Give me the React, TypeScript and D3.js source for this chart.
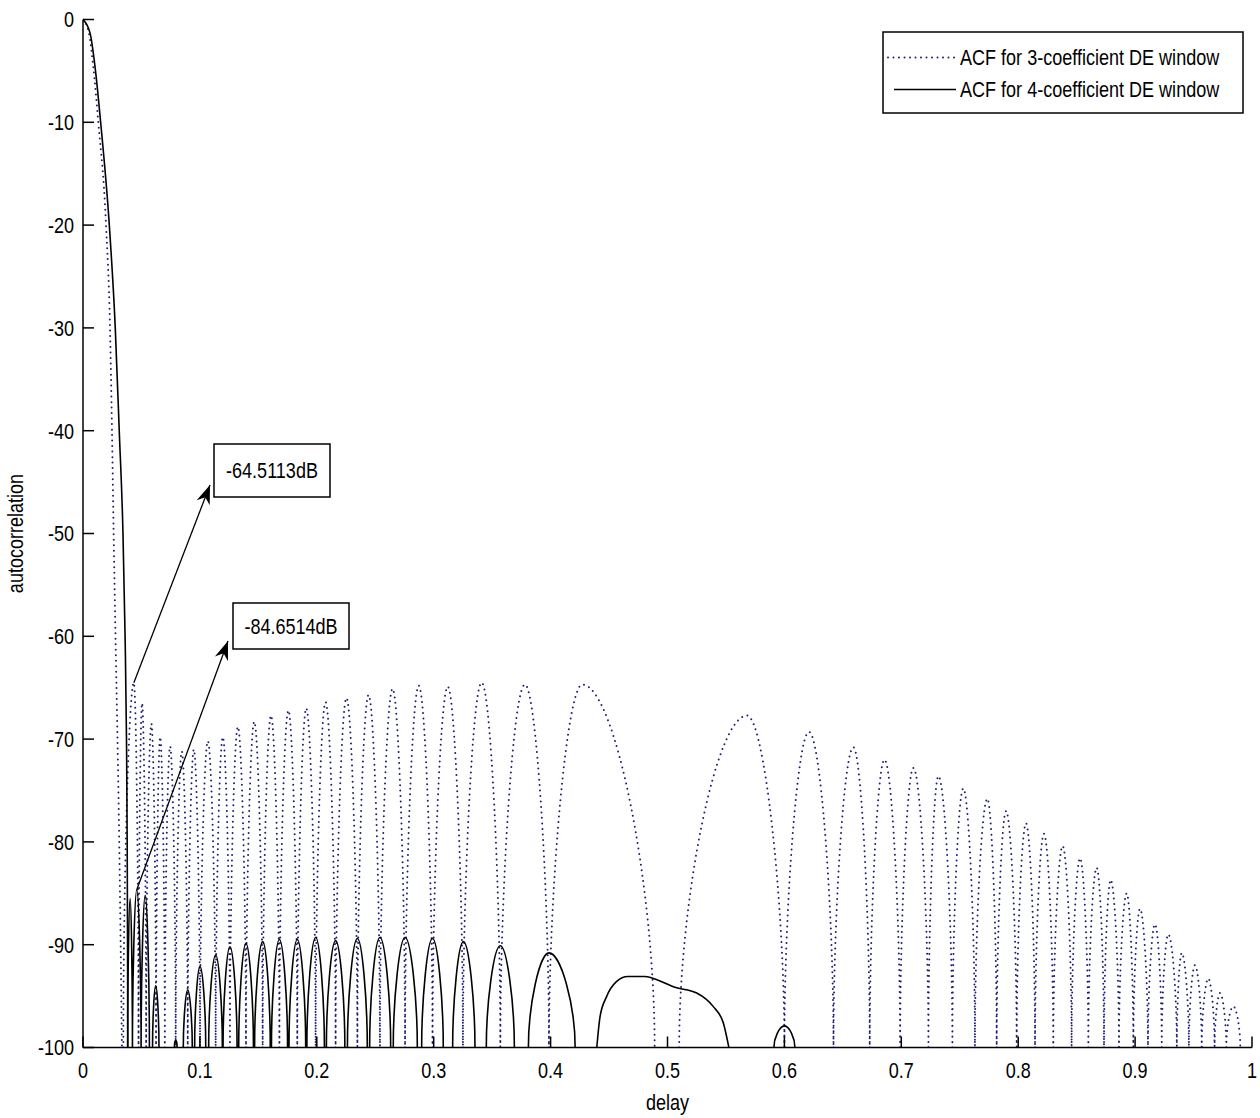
import React from "react";
import * as d3 from "d3";

const W = 1260;
const H = 1118;
const FONT = "'Liberation Sans', Arial, sans-serif";

const xTicks = [0, 0.1, 0.2, 0.3, 0.4, 0.5, 0.6, 0.7, 0.8, 0.9, 1];
const yTicks = [0, -10, -20, -30, -40, -50, -60, -70, -80, -90, -100];

const legendLabels = ["ACF for 3-coefficient DE window", "ACF for 4-coefficient DE window"];

// main lobes (delay, dB)
const acf3MainX = [0, 0.005, 0.0088, 0.0131, 0.0197, 0.0231, 0.0248, 0.0262, 0.0278, 0.0295, 0.031, 0.0322, 0.0333];
const acf3MainY = [0, -1.3, -4.6, -10, -20, -30, -40, -50, -60, -70, -80, -90, -100];
const acf4MainX = [0, 0.006, 0.0103, 0.0151, 0.0225, 0.0276, 0.031, 0.0342, 0.036, 0.0372, 0.0378, 0.0381, 0.0383];
const acf4MainY = [0, -1.3, -4.6, -10, -20, -30, -40, -50, -60, -70, -80, -90, -100];

// sidelobes: [left null, peak delay, peak dB, right null]
const acf3Lobes = [
  [0.0345, 0.0435, -64.51, 0.0475],
  [0.0475, 0.0505, -66.5, 0.054],
  [0.054, 0.0585, -68.5, 0.0625],
  [0.0625, 0.066, -69.8, 0.07],
  [0.07, 0.0745, -70.7, 0.0793],
  [0.0793, 0.0845, -71.2, 0.0896],
  [0.0896, 0.0948, -71.0, 0.1001],
  [0.1001, 0.1068, -70.2, 0.1135],
  [0.1135, 0.1196, -69.8, 0.1257],
  [0.1257, 0.1325, -68.8, 0.1394],
  [0.1394, 0.1465, -68.3, 0.1537],
  [0.1537, 0.1608, -67.7, 0.168],
  [0.168, 0.1757, -67.2, 0.1833],
  [0.1833, 0.191, -67.0, 0.199],
  [0.199, 0.2075, -66.4, 0.2161],
  [0.2161, 0.2254, -66.0, 0.2347],
  [0.2347, 0.2443, -65.7, 0.254],
  [0.254, 0.2648, -65.1, 0.2755],
  [0.2755, 0.2872, -64.8, 0.299],
  [0.299, 0.312, -64.9, 0.325],
  [0.325, 0.341, -64.5, 0.357],
  [0.357, 0.378, -64.7, 0.3986],
  [0.3986, 0.427, -64.7, 0.489],
  [0.51, 0.568, -67.7, 0.6],
  [0.6, 0.621, -69.3, 0.642],
  [0.642, 0.659, -70.8, 0.673],
  [0.673, 0.6856, -72.0, 0.699],
  [0.699, 0.7103, -72.8, 0.7232],
  [0.7232, 0.7317, -73.6, 0.7437],
  [0.7437, 0.753, -74.8, 0.763],
  [0.763, 0.7736, -75.8, 0.7816],
  [0.7816, 0.7896, -77.0, 0.7987],
  [0.7987, 0.8067, -78.2, 0.8144],
  [0.8144, 0.822, -79.2, 0.83],
  [0.83, 0.838, -80.4, 0.8457],
  [0.8457, 0.8529, -81.6, 0.86],
  [0.86, 0.8671, -82.5, 0.8734],
  [0.8734, 0.8791, -83.7, 0.8862],
  [0.8862, 0.8928, -85.0, 0.8985],
  [0.8985, 0.9042, -86.5, 0.911],
  [0.911, 0.917, -88.0, 0.9228],
  [0.9228, 0.9284, -89.0, 0.9357],
  [0.9357, 0.9399, -90.8, 0.946],
  [0.946, 0.9512, -92.0, 0.957],
  [0.957, 0.9626, -93.3, 0.968],
  [0.968, 0.9726, -94.7, 0.978],
  [0.978, 0.984, -96.0, 0.99],
];

const acf4Lobes = [
  [0.0382, 0.0403, -85.5, 0.0423],
  [0.0423, 0.046, -84.65, 0.0497],
  [0.0497, 0.0532, -85.2, 0.0568],
  [0.0595, 0.0622, -94.0, 0.065],
  [0.0782, 0.0793, -99.3, 0.0805],
  [0.0858, 0.0896, -94.4, 0.0935],
  [0.0955, 0.1001, -92.1, 0.105],
  [0.1075, 0.1135, -91.0, 0.1192],
  [0.1198, 0.1257, -90.2, 0.1318],
  [0.1332, 0.1394, -89.9, 0.1458],
  [0.1468, 0.1537, -89.7, 0.1602],
  [0.1612, 0.168, -89.5, 0.175],
  [0.1762, 0.1833, -89.5, 0.1905],
  [0.1915, 0.199, -89.3, 0.2065],
  [0.2082, 0.2161, -89.6, 0.224],
  [0.2262, 0.2347, -89.4, 0.2432],
  [0.2452, 0.254, -89.3, 0.2632],
  [0.2654, 0.2755, -89.3, 0.286],
  [0.2897, 0.299, -89.4, 0.3082],
  [0.3162, 0.3254, -89.7, 0.3353],
  [0.345, 0.357, -90.1, 0.369],
  [0.381, 0.3986, -90.8, 0.421],
  [0.591, 0.6, -97.9, 0.609],
];

// the broad lobe around 0.5
const acf4WideX = [0.4395, 0.4423, 0.4477, 0.4563, 0.466, 0.4807, 0.493, 0.505, 0.525, 0.539, 0.5477, 0.5525];
const acf4WideY = [-100, -97, -95.1, -93.6, -93.1, -93.1, -93.5, -94.1, -94.7, -96, -97.6, -100];

// peak annotations
const noteText = ["-64.5113dB", "-84.6514dB"];
const noteX = [0.0435, 0.046];
const noteY = [-64.51, -84.65];

// narrow text, like the original screenshot font
function Label({ x, y, anchor = "start", rotate = 0, children }: any) {
  return (
    <text
      transform={`translate(${x},${y}) rotate(${rotate}) scale(0.82,1)`}
      textAnchor={anchor}
      dy="0.36em"
      fontSize={22}
      fill="#000"
    >
      {children}
    </text>
  );
}

export default function App() {
  const margin = { left: 83, right: 8, top: 19.5, bottom: 70.5 };
  const x = d3.scaleLinear().domain([0, 1]).range([margin.left, W - margin.right]);
  const y = d3.scaleLinear().domain([-100, 0]).range([H - margin.bottom, margin.top]);

  const mainPath = (xs: number[], ys: number[]) =>
    d3
      .line<number>()
      .x((d) => x(xs[d]))
      .y((d) => y(ys[d]))
      .curve(d3.curveMonotoneX)(xs.map((_, i) => i)) as string;

  // each lobe: vertical at the nulls, flat at the peak
  const archPath = (lobes: number[][]) => {
    const p = d3.path();
    const k = 0.45;
    lobes.forEach(([l, px, py, r]) => {
      const x0 = x(l), x1 = x(px), x2 = x(r);
      const yb = y(-100), yt = y(py);
      p.moveTo(x0, yb);
      p.bezierCurveTo(x0, yb - k * (yb - yt), x1 - k * (x1 - x0), yt, x1, yt);
      p.bezierCurveTo(x1 + k * (x2 - x1), yt, x2, yb - k * (yb - yt), x2, yb);
    });
    return p.toString();
  };

  const dotColor = "#1e1e78";
  const dotted = {
    stroke: dotColor,
    strokeWidth: 2,
    strokeDasharray: "0 5.5",
    strokeLinecap: "round" as const,
    fill: "none",
  };
  const solid = { stroke: "#000", strokeWidth: 1.6, fill: "none" };

  const tick = 11;

  // annotation boxes (px layout)
  const boxes = [
    { x: 214, y: 444, w: 116, h: 53 },
    { x: 233, y: 603, w: 116, h: 46 },
  ];
  const heads = [
    { x: 210, y: 485 },
    { x: 228, y: 641 },
  ];

  const arrowHead = (x0: number, y0: number, x1: number, y1: number) => {
    const a = Math.atan2(y1 - y0, x1 - x0);
    const len = 19, half = 7, back = 13;
    const bx = x1 - len * Math.cos(a), by = y1 - len * Math.sin(a);
    const nx = -Math.sin(a), ny = Math.cos(a);
    const mx = x1 - back * Math.cos(a), my = y1 - back * Math.sin(a);
    return `M${x1},${y1}L${bx + nx * half},${by + ny * half}L${mx},${my}L${bx - nx * half},${by - ny * half}Z`;
  };

  return (
    <svg
      width={W}
      height={H}
      style={{ position: "absolute", left: 0, top: 0, background: "#fff", fontFamily: FONT }}
    >
      <defs>
        <clipPath id="plot">
          <rect x={x(0)} y={y(0) - 2} width={x(1) - x(0)} height={y(-100) - y(0) + 2} />
        </clipPath>
      </defs>
      <rect x={0} y={0} width={W} height={H} fill="#fff" />

      <g clipPath="url(#plot)">
        <path d={mainPath(acf3MainX, acf3MainY)} {...dotted} />
        <path d={archPath(acf3Lobes)} {...dotted} />
        <path d={mainPath(acf4MainX, acf4MainY)} {...solid} />
        <path d={archPath(acf4Lobes)} {...solid} />
        <path d={mainPath(acf4WideX, acf4WideY)} {...solid} />
      </g>

      {/* axes */}
      <line x1={x(0)} x2={x(0)} y1={y(0)} y2={y(-100)} stroke="#000" strokeWidth={1.5} />
      <line x1={x(0)} x2={x(1)} y1={y(-100)} y2={y(-100)} stroke="#000" strokeWidth={1.5} />
      {yTicks.map((t) => (
        <g key={"y" + t}>
          <line x1={x(0)} x2={x(0) + tick} y1={y(t)} y2={y(t)} stroke="#000" strokeWidth={1.5} />
          <Label x={x(0) - 9} y={y(t)} anchor="end">
            {t}
          </Label>
        </g>
      ))}
      {xTicks.map((t) => (
        <g key={"x" + t}>
          <line x1={x(t)} x2={x(t)} y1={y(-100)} y2={y(-100) - tick} stroke="#000" strokeWidth={1.5} />
          <Label x={x(t)} y={y(-100) + 23} anchor="middle">
            {d3.format("~g")(t)}
          </Label>
        </g>
      ))}
      <Label x={x(0.5)} y={H - 16} anchor="middle">
        delay
      </Label>
      <Label x={15} y={(y(0) + y(-100)) / 2} anchor="middle" rotate={-90}>
        autocorrelation
      </Label>

      {/* annotations */}
      {noteText.map((t, i) => {
        const tx = x(noteX[i]), ty = y(noteY[i]);
        const b = boxes[i], h = heads[i];
        return (
          <g key={t}>
            <line x1={tx} y1={ty} x2={h.x} y2={h.y} stroke="#000" strokeWidth={1.3} />
            <path d={arrowHead(tx, ty, h.x, h.y)} fill="#000" />
            <rect x={b.x} y={b.y} width={b.w} height={b.h} fill="#fff" stroke="#000" strokeWidth={1.5} />
            <Label x={b.x + b.w / 2} y={b.y + b.h / 2} anchor="middle">
              {t}
            </Label>
          </g>
        );
      })}

      {/* legend */}
      <g>
        <rect x={883} y={32} width={360} height={81} fill="#fff" stroke="#000" strokeWidth={1.5} />
        <line x1={888} x2={958} y1={57.5} y2={57.5} {...dotted} />
        <line x1={894} x2={956} y1={89.5} y2={89.5} {...solid} />
        {legendLabels.map((l, i) => (
          <Label key={l} x={960} y={57.5 + i * 32}>
            {l}
          </Label>
        ))}
      </g>
    </svg>
  );
}
